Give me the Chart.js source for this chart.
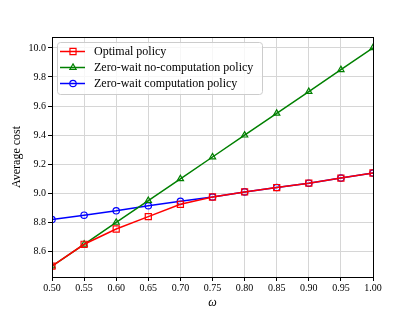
<!DOCTYPE html>
<html>
<head>
<meta charset="utf-8">
<script src="https://cdn.jsdelivr.net/npm/chart.js@4"></script>
<style>
    html, body { margin: 0; padding: 0; background: #fff; }
    #wrap { width: 415px; height: 312px; }
</style>
</head>
<body>
<div id="wrap"><canvas id="chart" width="415" height="312"></canvas></div>
<script>
const omega = [0.50, 0.55, 0.60, 0.65, 0.70, 0.75, 0.80, 0.85, 0.90, 0.95, 1.00];
const optimalCost = [8.50, 8.65, 8.755, 8.84, 8.925, 8.975, 9.01, 9.04, 9.07, 9.105, 9.14];
const noComputationCost = [8.50, 8.65, 8.80, 8.95, 9.10, 9.25, 9.40, 9.55, 9.70, 9.85, 10.00];
const computationCost = [8.82, 8.85, 8.88, 8.915, 8.945, 8.975, 9.01, 9.04, 9.07, 9.105, 9.14];

const seriesLabels = ['Optimal policy', 'Zero-wait no-computation policy', 'Zero-wait computation policy'];
const xTicks = [0.50, 0.55, 0.60, 0.65, 0.70, 0.75, 0.80, 0.85, 0.90, 0.95, 1.00];
const yTicks = [8.6, 8.8, 9.0, 9.2, 9.4, 9.6, 9.8, 10.0];

const serif = "'Liberation Serif', 'DejaVu Serif', serif";

function toPoints(values) {
    return omega.map((x, i) => ({ x: x, y: values[i] }));
}

function makeDataset(label, values, color, style, radius, order) {
    return {
        label: label,
        data: toPoints(values),
        borderColor: color,
        backgroundColor: color,
        borderWidth: 1.5,
        pointStyle: style,
        pointRadius: radius,
        pointBorderColor: color,
        pointBackgroundColor: 'transparent',
        pointBorderWidth: 1.2,
        order: order,
        clip: 0
    };
}

// matplotlib style frame around the plot area
const framePlugin = {
    id: 'frame',
    afterDatasetsDraw(chart) {
        const a = chart.chartArea;
        const ctx = chart.ctx;
        ctx.save();
        ctx.strokeStyle = '#000';
        ctx.lineWidth = 1;
        ctx.strokeRect(Math.round(a.left) + 0.5, Math.round(a.top) + 0.5,
            Math.round(a.right - a.left), Math.round(a.bottom - a.top));
        ctx.restore();
    }
};

// legend drawn inside the axes, upper left
const insideLegend = {
    id: 'insideLegend',
    afterDraw(chart) {
        const ctx = chart.ctx;
        const a = chart.chartArea;
        const x0 = a.left + 5, y0 = a.top + 5;
        const w = 205, h = 52, rowH = 16;
        ctx.save();
        ctx.beginPath();
        ctx.roundRect(x0 + 0.5, y0 + 0.5, w, h, 3);
        ctx.fillStyle = 'rgba(255,255,255,0.8)';
        ctx.fill();
        ctx.strokeStyle = '#cccccc';
        ctx.lineWidth = 1;
        ctx.stroke();

        chart.data.datasets.forEach((ds, i) => {
            const cy = y0 + 9.5 + i * rowH;
            ctx.beginPath();
            ctx.strokeStyle = ds.borderColor;
            ctx.lineWidth = ds.borderWidth;
            ctx.moveTo(x0 + 3, cy);
            ctx.lineTo(x0 + 28, cy);
            ctx.stroke();
            // hollow marker, same as in the plot
            ctx.fillStyle = 'rgba(0,0,0,0)';
            ctx.lineWidth = ds.pointBorderWidth;
            Chart.helpers.drawPoint(ctx, {
                pointStyle: ds.pointStyle,
                radius: ds.pointRadius,
                borderWidth: ds.pointBorderWidth
            }, x0 + 16, cy);
            ctx.fillStyle = '#000';
            ctx.font = '12px ' + serif;
            ctx.textBaseline = 'middle';
            ctx.fillText(ds.label, x0 + 37, cy);
        });
        ctx.restore();
    }
};

const config = {
    type: 'line',
    data: {
        datasets: [
            makeDataset(seriesLabels[0], optimalCost, '#ff0000', 'rect', 4.3, 0),
            makeDataset(seriesLabels[1], noComputationCost, '#008000', 'triangle', 3.6, 1),
            makeDataset(seriesLabels[2], computationCost, '#0000ff', 'circle', 3.2, 2)
        ]
    },
    plugins: [framePlugin, insideLegend],
    options: {
        responsive: false,
        animation: false,
        layout: { padding: { left: 0, top: 37, right: 42, bottom: 0 } },
        scales: {
            x: {
                type: 'linear',
                min: 0.5,
                max: 1.0,
                afterBuildTicks: s => { s.ticks = xTicks.map(v => ({ value: v })); },
                afterFit: s => { s.height = 35; },
                ticks: {
                    color: '#000',
                    font: { family: serif, size: 10 },
                    padding: 1,
                    maxRotation: 0,
                    callback: v => Number(v).toFixed(2)
                },
                grid: { color: '#d6d6d6', tickColor: '#000', tickLength: 4, lineWidth: 1 },
                border: { display: true, color: '#000', width: 1 },
                title: { display: true, text: 'ω', color: '#000', font: { family: serif, size: 12, style: 'italic' }, padding: { top: 0, bottom: 2 } }
            },
            y: {
                type: 'linear',
                min: 8.425,
                max: 10.075,
                afterBuildTicks: s => { s.ticks = yTicks.map(v => ({ value: v })); },
                afterFit: s => { s.width = 52; },
                ticks: {
                    color: '#000',
                    font: { family: serif, size: 10 },
                    padding: 2,
                    callback: v => Number(v).toFixed(1)
                },
                grid: { color: '#d6d6d6', tickColor: '#000', tickLength: 4, lineWidth: 1 },
                border: { display: true, color: '#000', width: 1 },
                title: { display: true, text: 'Average cost', color: '#000', font: { family: serif, size: 12 }, padding: { top: 10, bottom: 0 } }
            }
        },
        plugins: {
            legend: { display: false },
            tooltip: { enabled: false }
        }
    }
};

new Chart(document.getElementById('chart').getContext('2d'), config);
</script>
</body>
</html>
